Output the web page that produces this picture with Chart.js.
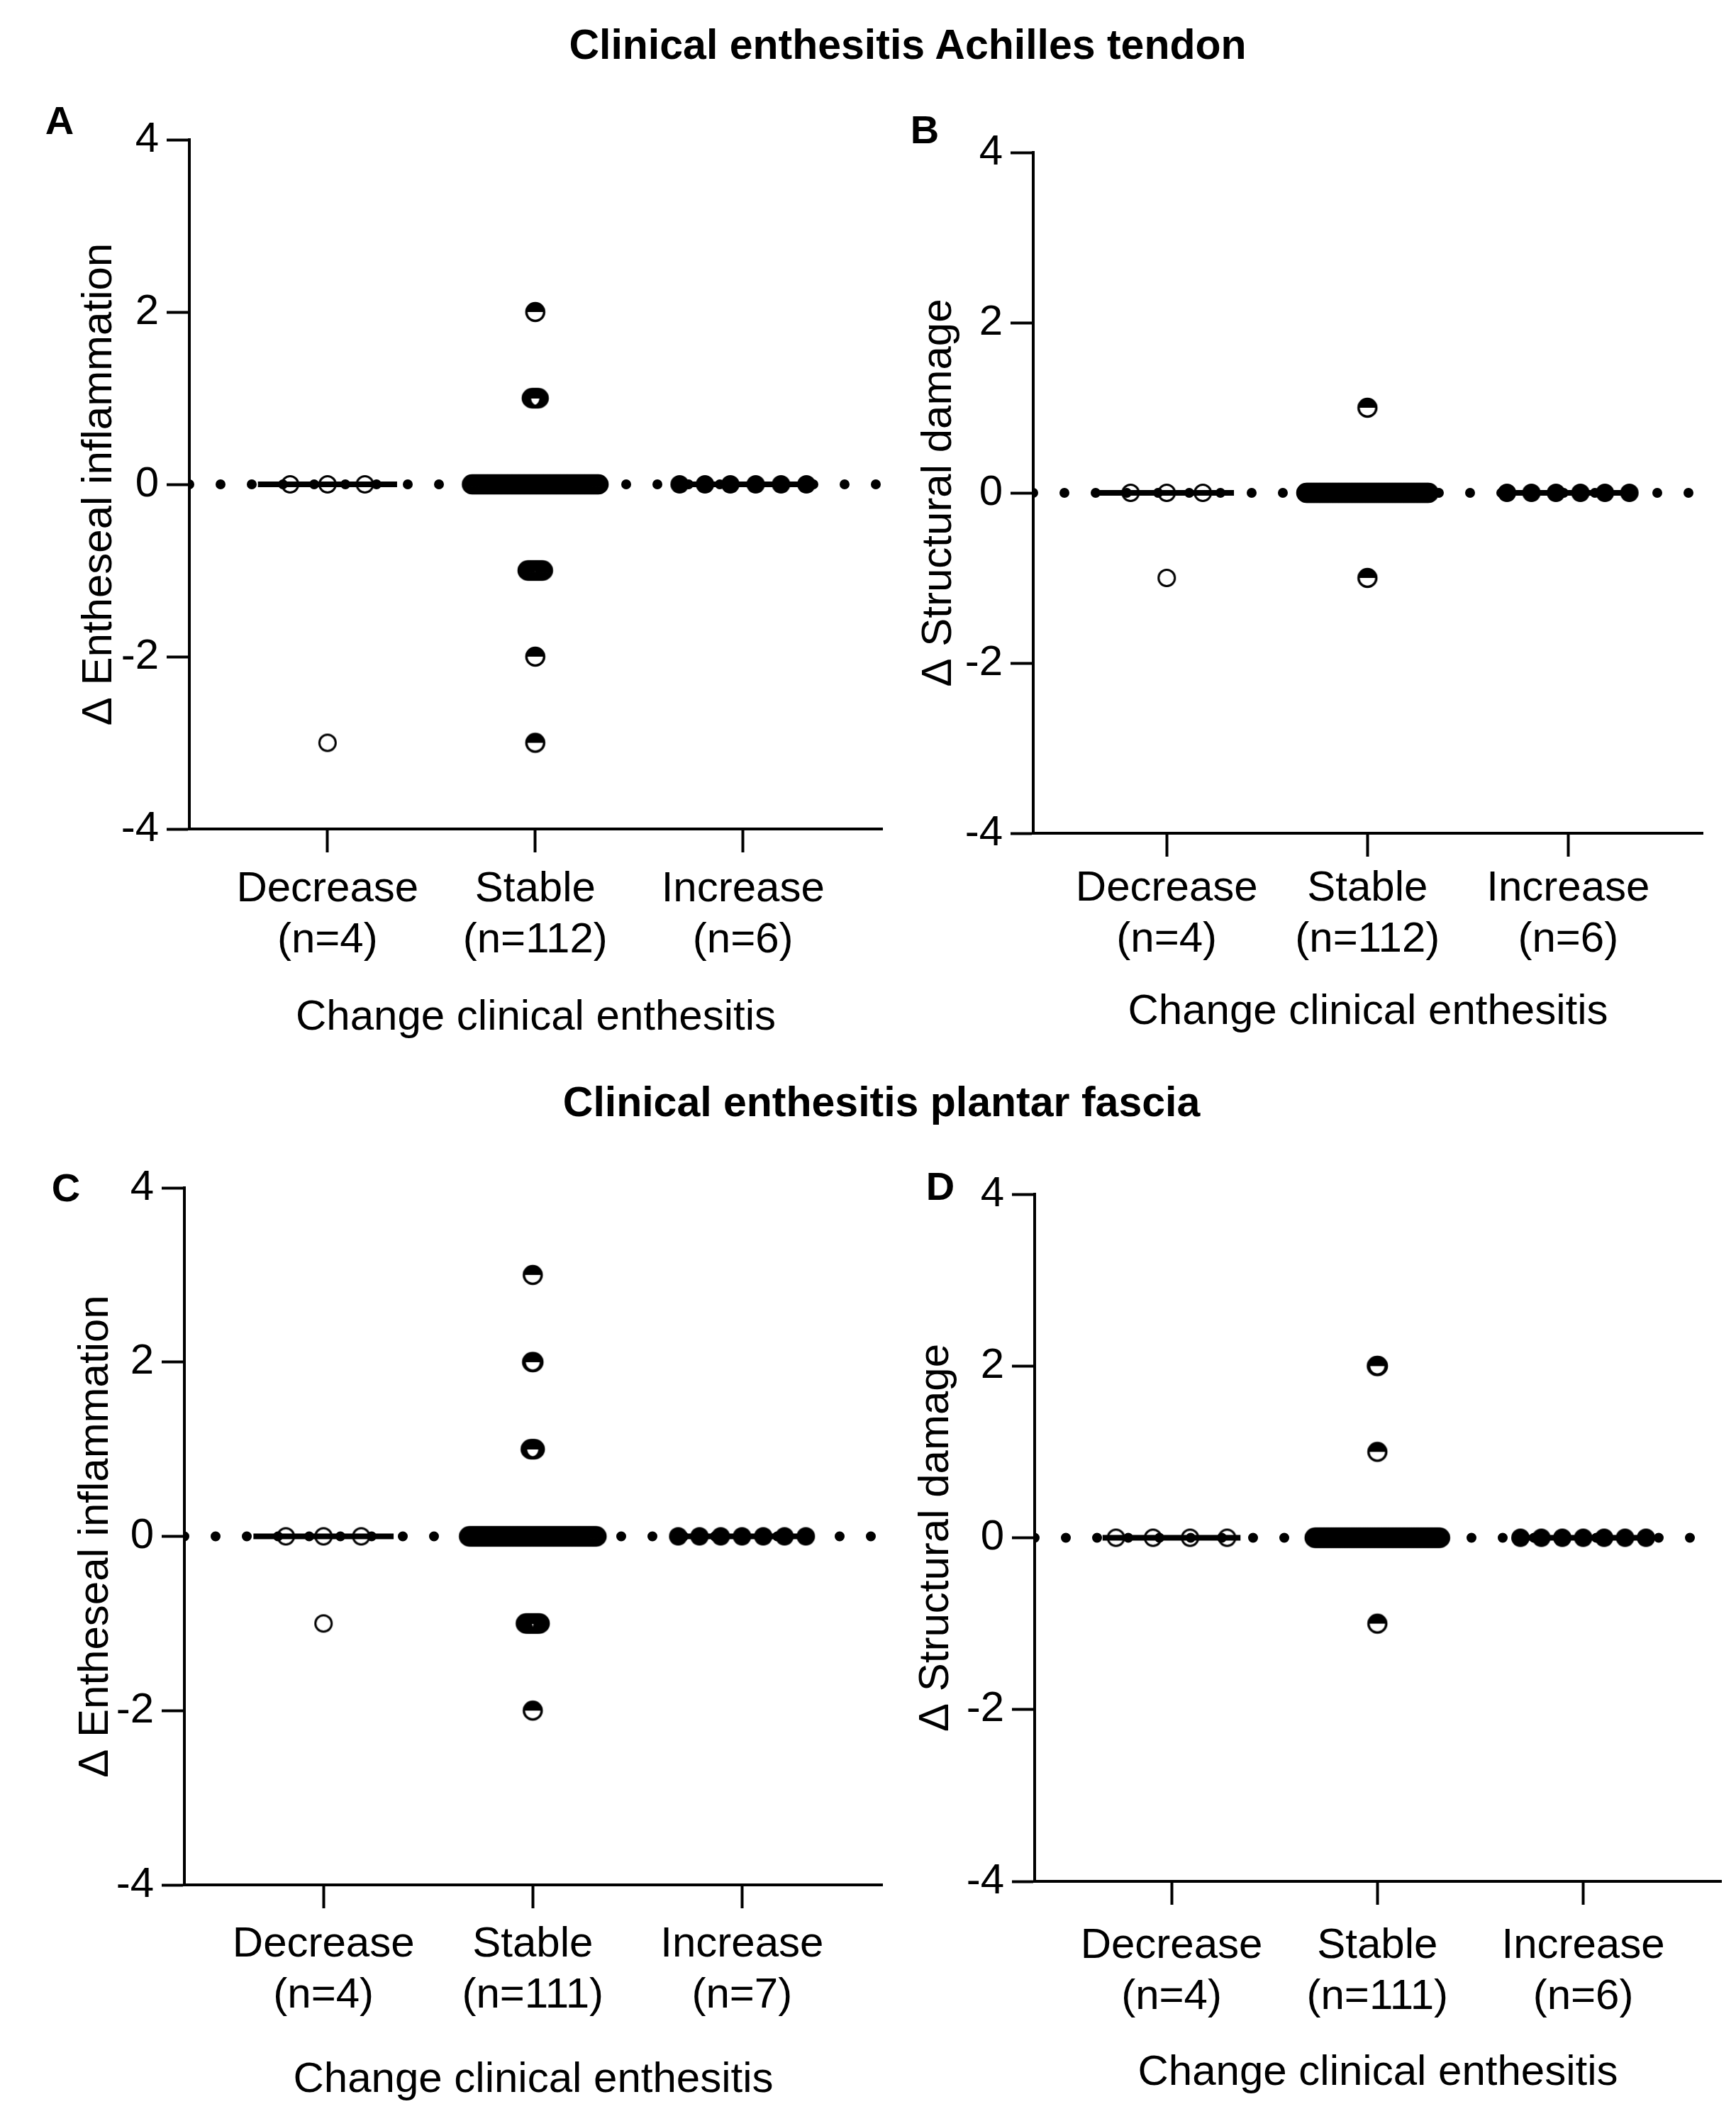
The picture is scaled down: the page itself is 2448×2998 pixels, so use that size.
<!DOCTYPE html>
<html>
<head>
<meta charset="utf-8">
<script src="https://cdn.jsdelivr.net/npm/chart.js@4.4.1/dist/chart.umd.min.js"></script>
<style>
  html, body { margin: 0; padding: 0; background: #fff; }
  body { width: 2448px; height: 2998px; position: relative; overflow: hidden;
         font-family: "Liberation Sans", Arial, sans-serif; color: #000; }
  .title { position: absolute; font-weight: bold; font-size: 59px; line-height: 1;
           transform: translate(-50%, -50%); white-space: nowrap; }
  .letter { position: absolute; font-weight: bold; font-size: 56px; line-height: 1;
            transform: translate(-50%, -50%); }
  canvas { position: absolute; }
</style>
</head>
<body>
<div class="title" style="left:1280px; top:63px">Clinical enthesitis Achilles tendon</div>
<div class="title" style="left:1243px; top:1554px">Clinical enthesitis plantar fascia</div>
<div class="letter" style="left:84px; top:170px">A</div>
<div class="letter" style="left:1304px; top:183px">B</div>
<div class="letter" style="left:93px; top:1675px">C</div>
<div class="letter" style="left:1326px; top:1673px">D</div>

<canvas id="chartA"></canvas>
<canvas id="chartB"></canvas>
<canvas id="chartC"></canvas>
<canvas id="chartD"></canvas>

<script>
// groups on the x axis and the y ticks
const categories = ['Decrease', 'Stable', 'Increase'];
const yTicks = [-4, -2, 0, 2, 4];

// A: Achilles tendon, entheseal inflammation
// per group: the distinct values and how many patients sit on each
const aN = [4, 112, 6];
const aValues = [[0, -3], [2, 1, 0, -1, -2, -3], [0]];
const aCounts = [[3, 1], [1, 6, 91, 12, 1, 1], [6]];

// B: Achilles tendon, structural damage
const bN = [4, 112, 6];
const bValues = [[0, -1], [1, 0, -1], [0]];
const bCounts = [[3, 1], [1, 110, 1], [6]];

// C: plantar fascia, entheseal inflammation
const cN = [4, 111, 7];
const cValues = [[0, -1], [3, 2, 1, 0, -1, -2], [0]];
const cCounts = [[3, 1], [1, 2, 4, 92, 11, 1], [7]];

// D: plantar fascia, structural damage
const dN = [4, 111, 6];
const dValues = [[0], [2, 1, 0, -1], [0]];
const dCounts = [[4], [2, 1, 107, 1], [7]];

// x range in category units, swarm spread limits
const X_MIN = 0.335, X_MAX = 3.67;
const MAX_STEP = 0.18, MAX_SPAN = 0.61, MEDIAN_HALF = 0.335;

Chart.defaults.font.family = '"Liberation Sans", Arial, sans-serif';
Chart.defaults.color = '#000';

function marker(kind) {
  const c = document.createElement('canvas');
  c.width = 34; c.height = 34;
  const g = c.getContext('2d');
  g.fillStyle = '#000'; g.strokeStyle = '#000';
  if (kind === 'open') {
    g.lineWidth = 3;
    g.beginPath(); g.arc(17, 17, 11.5, 0, 2 * Math.PI); g.stroke();
  } else if (kind === 'filled') {
    g.beginPath(); g.arc(17, 17, 13, 0, 2 * Math.PI); g.fill();
  } else if (kind === 'halfTop') {
    g.lineWidth = 3.5;
    g.beginPath(); g.arc(17, 17, 12.5, Math.PI, 2 * Math.PI); g.closePath(); g.fill();
    g.beginPath(); g.arc(17, 17, 12.5, 0, 2 * Math.PI); g.stroke();
  } else if (kind === 'halfWhite') {
    g.fillStyle = '#fff';
    g.beginPath(); g.arc(17, 17, 12.5, 0, Math.PI); g.closePath(); g.fill();
  }
  return c;
}
const markers = {
  open: marker('open'), filled: marker('filled'),
  halfTop: marker('halfTop'), halfWhite: marker('halfWhite')
};

// spread equal values sideways like a column scatter
function swarm(values, counts, center) {
  const maxCount = Math.max(...counts);
  const step = maxCount > 1 ? Math.min(MAX_STEP, MAX_SPAN / (maxCount - 1)) : 0;
  const pts = [];
  values.forEach((v, i) => {
    const k = counts[i];
    for (let j = 0; j < k; j++) pts.push({x: center + (j - (k - 1) / 2) * step, y: v});
  });
  return pts;
}

function median(values, counts) {
  const all = [];
  values.forEach((v, i) => { for (let j = 0; j < counts[i]; j++) all.push(v); });
  all.sort((p, q) => p - q);
  const m = all.length >> 1;
  return all.length % 2 ? all[m] : (all[m - 1] + all[m]) / 2;
}

function makePanel(p) {
  const [cx, cy, cw, ch] = p.box;
  const [L, T, R, B] = p.area;
  const cv = document.getElementById(p.id);
  cv.style.left = cx + 'px'; cv.style.top = cy + 'px';
  cv.width = cw; cv.height = ch;

  const dec = swarm(p.values[0], p.counts[0], 1);
  const sta = swarm(p.values[1], p.counts[1], 2);
  const inc = swarm(p.values[2], p.counts[2], 3);

  const datasets = [
    {data: sta, pointStyle: markers.halfTop, pointRadius: 13, order: 0},
    {data: sta, pointStyle: markers.halfWhite, pointRadius: 13, order: 1},
    {data: dec, pointStyle: markers.open, pointRadius: 13, order: 2},
    {data: inc, pointStyle: markers.filled, pointRadius: 13, order: 3}
  ];
  [0, 1, 2].forEach(g => {
    const m = median(p.values[g], p.counts[g]);
    datasets.push({
      data: [{x: g + 1 - MEDIAN_HALF, y: m}, {x: g + 1 + MEDIAN_HALF, y: m}],
      showLine: true, borderColor: '#000', borderWidth: 8, pointRadius: 0, order: 4
    });
  });
  datasets.push({
    data: [{x: X_MIN, y: 0}, {x: X_MAX, y: 0}],
    showLine: true, borderColor: '#000', borderWidth: 14, borderDash: [0, 44],
    borderCapStyle: 'round', pointRadius: 0, order: 5
  });

  new Chart(cv, {
    type: 'scatter',
    data: {datasets: datasets},
    options: {
      responsive: false,
      animation: false,
      devicePixelRatio: 1,
      layout: {padding: {left: 0, top: T - cy, right: cx + cw - R, bottom: 0}},
      plugins: {legend: {display: false}, tooltip: {enabled: false}},
      scales: {
        x: {
          type: 'linear', min: X_MIN, max: X_MAX,
          afterBuildTicks: s => { s.ticks = categories.map((c, i) => ({value: i + 1})); },
          afterFit: s => { s.height = cy + ch - B; },
          ticks: {
            autoSkip: false, maxRotation: 0, minRotation: 0,
            padding: p.tickY - B - 33 - 36,
            font: {size: 60},
            callback: (v, i) => [categories[i], '(n=' + p.n[i] + ')']
          },
          grid: {drawOnChartArea: false, tickLength: 33, tickWidth: 4, tickColor: '#000'},
          border: {color: '#000', width: 4},
          title: {
            display: true, text: 'Change clinical enthesitis', font: {size: 60},
            padding: {top: 0, bottom: cy + ch - p.xTitleY - 36}
          }
        },
        y: {
          min: -4, max: 4,
          afterBuildTicks: s => { s.ticks = yTicks.map(v => ({value: v})); },
          afterFit: s => { s.width = L - cx; },
          ticks: {padding: 11, font: {size: 60}},
          grid: {drawOnChartArea: false, tickLength: 32, tickWidth: 4, tickColor: '#000'},
          border: {color: '#000', width: 4},
          title: {
            display: true, text: p.yTitle, font: {size: 60},
            padding: {top: p.yTitleX - cx - 36, bottom: 0}
          }
        }
      }
    }
  });
}

const panels = [
  {id: 'chartA', yTitle: 'Δ Entheseal inflammation', n: aN, values: aValues, counts: aCounts,
   box: [0, 150, 1270, 1350], area: [267, 194, 1244, 1169], yTitleX: 140, tickY: 1254, xTitleY: 1435},
  {id: 'chartB', yTitle: 'Δ Structural damage', n: bN, values: bValues, counts: bCounts,
   box: [1270, 150, 1178, 1350], area: [1457, 215, 2401, 1175], yTitleX: 1324, tickY: 1253, xTitleY: 1427},
  {id: 'chartC', yTitle: 'Δ Entheseal inflammation', n: cN, values: cValues, counts: cCounts,
   box: [0, 1600, 1270, 1398], area: [260, 1675, 1244, 2658], yTitleX: 135, tickY: 2742, xTitleY: 2933},
  {id: 'chartD', yTitle: 'Δ Structural damage', n: dN, values: dValues, counts: dCounts,
   box: [1270, 1600, 1178, 1398], area: [1459, 1684, 2427, 2653], yTitleX: 1320, tickY: 2744, xTitleY: 2923}
];

panels.forEach(makePanel);
</script>
</body>
</html>
